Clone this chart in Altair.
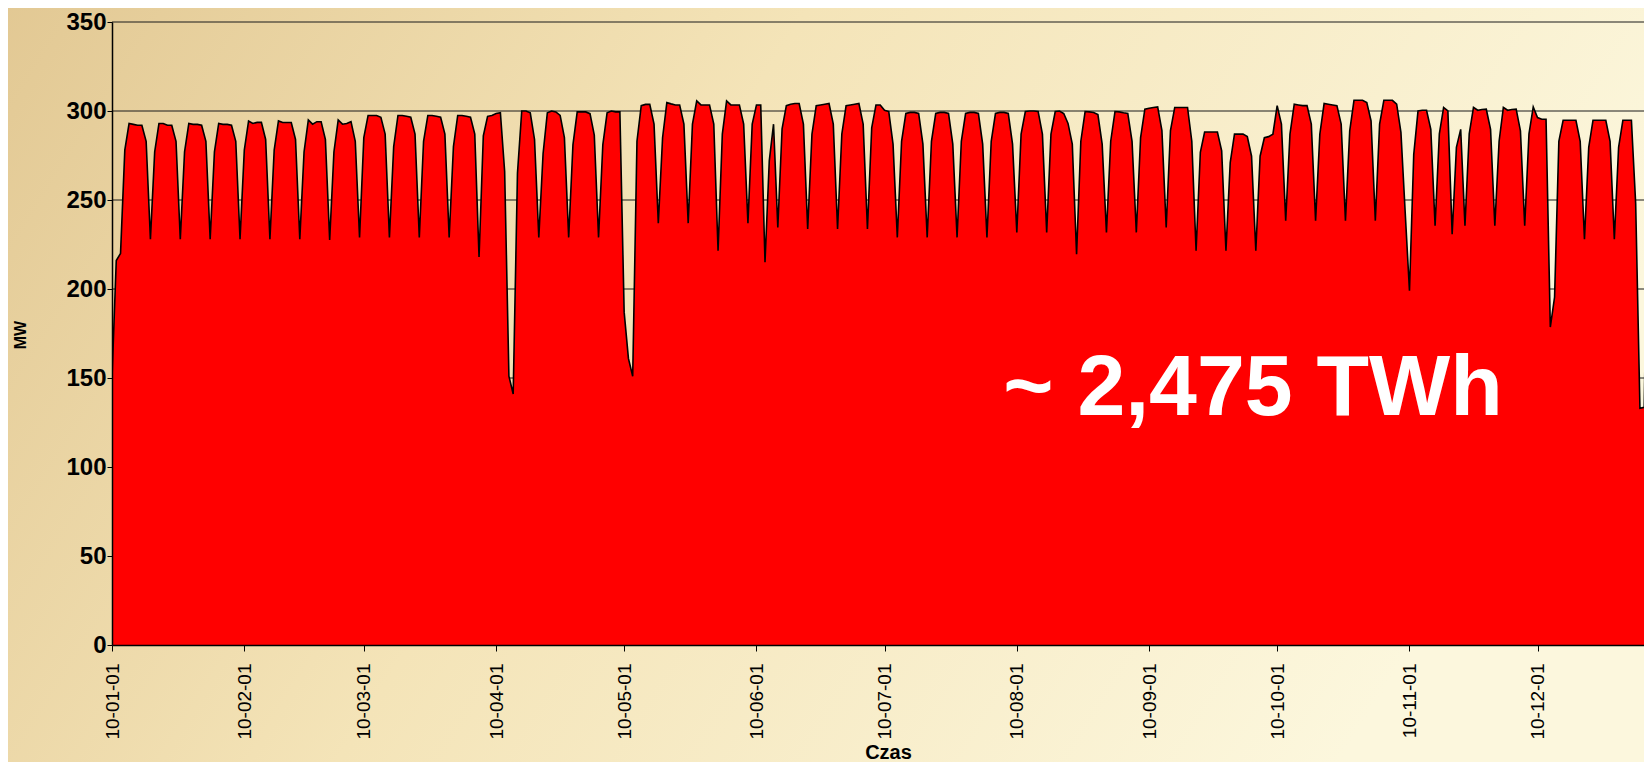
import altair as alt
import pandas as pd

# Daily average power (MW), 2010
jan = [150, 216, 220, 278, 293, 292.5, 292, 292, 283, 228,
       277, 293, 293, 292, 292, 283, 228,
       277, 293, 292.5, 292.5, 292, 283, 228,
       277, 293, 292.5, 292.5, 292, 283, 228]
feb = [278, 294.4, 293, 293.6, 293.6, 284, 228,
       278, 294.4, 293.5, 293.5, 293.5, 284, 228,
       277, 295, 292.6, 294, 294, 284, 227.5,
       277, 295, 292.6, 293, 294, 283, 229]
mar = [285, 297.5, 297.5, 297.5, 296.5, 287, 229,
       280, 297.5, 297.5, 297, 296.5, 287, 229,
       283, 297.5, 297.5, 297, 296.5, 287, 229,
       280, 297.5, 297.5, 297, 296.5, 287, 218,
       286, 297, 297.5]
apr = [298.6, 299, 266, 151, 141, 265, 300, 300, 299, 284, 229,
       276, 299, 300, 299.5, 297.5, 285, 229,
       281, 299.5, 299.5, 299.5, 298.5, 286.5, 229,
       281, 299, 300, 299.5, 299.5]
may = [187, 161, 151, 283, 303, 303.7, 303.7, 292.6, 237,
       285, 304.7, 304, 303.4, 303.4, 292.6, 237,
       292.6, 305.7, 303.4, 303.4, 303.4, 292.6, 221.5,
       287, 305.7, 303.4, 303.4, 303.4, 292.6, 237,
       292.6]
jun = [303.4, 303.4, 215, 272, 292.6, 234.6,
       290, 303, 303.8, 304.2, 304.2, 292.6, 233.7,
       287, 303, 303.4, 303.8, 304.2, 292.6, 233.7,
       287, 303, 303.4, 303.8, 304.2, 292.6, 233.7,
       290.5, 303.4, 303.4]
jul = [300.4, 299.7, 281.4, 229,
       283, 298.6, 299.2, 299.2, 298.6, 281.4, 229,
       283, 298.6, 299.2, 299.2, 298.6, 281.4, 229,
       283, 298.6, 299.2, 299.2, 298.6, 281.4, 229,
       283, 298.6, 299.2, 299.2, 298.6, 281.4]
aug = [231.8, 287, 299.7, 300, 300, 299.7, 287, 231.8,
       287, 299.7, 300, 298.6, 293, 281.4, 219.6,
       283, 299.7, 299.5, 299.2, 298, 281.4, 231.8,
       283, 299.7, 299.5, 299, 298.6, 283, 231.8,
       285, 301]
sep = [301.5, 302, 302.3, 289, 234.6,
       289, 302, 302, 302, 302, 283, 221.5,
       276.8, 288.2, 288.2, 288.2, 288.2, 277.6, 221.5,
       271, 287, 287, 287, 285.6, 274.6, 221.5,
       274.6, 285, 285.6, 287]
oct_ = [303, 292.6, 238.4,
        287, 303.8, 303.4, 303, 303, 292.6, 238.4,
        287, 304.2, 303.8, 303.4, 303, 292.6, 238.4,
        288.8, 306, 306, 306, 304.7, 294.4, 238.4,
        292.6, 306, 306, 306, 303.8, 288, 243]
nov = [199, 275.6, 300, 300.4, 300.4, 289.7, 235.5,
       287.2, 302, 300, 230.8, 279.6, 289.7, 235.5,
       287.2, 302, 300.4, 300.8, 301, 289.7, 235.5,
       283, 302, 300.4, 300.8, 301, 288.8, 235.5,
       287.2, 302.3]
dec = [296.3, 295.4, 295.4, 178.6, 195.5,
       283, 294.8, 294.8, 294.8, 294.8, 283, 228,
       279.6, 294.8, 294.8, 294.8, 294.8, 283, 228,
       279.6, 294.8, 294.8, 294.8, 248, 133, 133.5,
       280, 295, 295, 294, 285]

months = [jan, feb, mar, apr, may, jun, jul, aug, sep, oct_, nov, dec]
mw = [v for m in months for v in m]
day = list(range(len(mw)))

tick_days = [0, 31, 59, 90, 120, 151, 181, 212, 243, 273, 304, 334]
tick_labels = ["10-01-01", "10-02-01", "10-03-01", "10-04-01", "10-05-01", "10-06-01",
               "10-07-01", "10-08-01", "10-09-01", "10-10-01", "10-11-01", "10-12-01"]
y_ticks = [0, 50, 100, 150, 200, 250, 300, 350]
grid_values = [50, 100, 150, 200, 250, 300, 350]
annotation = ["~ 2,475 TWh"]
y_title = ["MW"]
x_title = "Czas"

label_expr = "''"
for d, lab in reversed(list(zip(tick_days, tick_labels))):
    label_expr = f"datum.value == {d} ? '{lab}' : ({label_expr})"

PX_PER_DAY = 4.268
W, H = 1532, 623
X_END = W / PX_PER_DAY          # visible part of the year (window cuts it off)
FONT = "Liberation Sans"

df = pd.DataFrame({"day": day, "mw": mw})
grid_df = pd.DataFrame({"g": grid_values})
bg_df = pd.DataFrame({"k": [0]})
txt_df = pd.DataFrame({"t": annotation})
ytitle_df = pd.DataFrame({"t": y_title})

xscale = alt.Scale(domain=[0, X_END], nice=False, zero=False)
yscale = alt.Scale(domain=[0, 350], nice=False)

y_axis = alt.Axis(values=y_ticks, title=None,
                  labelFontSize=24, labelFontWeight="bold", labelPadding=1,
                  tickSize=5, grid=False, zindex=1)

bg = alt.Chart(bg_df).mark_rect(
    color=alt.LinearGradient(
        gradient="linear", x1=0, y1=0, x2=1, y2=0.3,
        stops=[alt.GradientStop(offset=0, color="#E2C893"),
               alt.GradientStop(offset=0.45, color="#F4E4B8"),
               alt.GradientStop(offset=1, color="#FCF7DD")]),
    strokeWidth=0,
).encode(x=alt.value(-120), x2=alt.value(W + 20), y=alt.value(-20), y2=alt.value(H + 160))

grid = alt.Chart(grid_df).mark_rule(color="#1a1a1a", strokeWidth=1).encode(
    y=alt.Y("g:Q", scale=yscale, axis=y_axis),
    x=alt.datum(0, scale=xscale),
    x2=alt.datum(X_END),
)

area = alt.Chart(df).mark_area(
    color="#FF0000", opacity=1, clip=True,
    line={"color": "#000000", "strokeWidth": 1.6},
).encode(
    x=alt.X("day:Q", scale=xscale,
            axis=alt.Axis(values=tick_days, labelExpr=label_expr, title=x_title,
                          titleX=776, titleY=107, titleBaseline="middle",
                          labelAngle=-90, labelAlign="right", labelBaseline="middle",
                          labelFontSize=19, labelPadding=12, tickSize=6,
                          grid=False, zindex=1)),
    y=alt.Y("mw:Q", scale=yscale, axis=y_axis),
)

txt = alt.Chart(txt_df).mark_text(
    font=FONT, fontSize=86, fontWeight="bold", color="#FFFFFF",
    align="center", baseline="alphabetic",
).encode(text="t:N", x=alt.value(1141), y=alt.value(393))

ytitle = alt.Chart(ytitle_df).mark_text(
    font=FONT, fontSize=16, fontWeight="bold", color="#000000",
    align="center", baseline="middle", angle=270,
).encode(text="t:N", x=alt.value(-91), y=alt.value(313))

chart = alt.layer(bg, grid, area, txt, ytitle).properties(
    width=W, height=H,
    autosize=alt.AutoSizeParams(type="none"),
    padding={"left": 104, "top": 14, "right": 0, "bottom": 117},
    background="#F2E3BA",
).configure_view(
    stroke=None
).configure_axis(
    labelFont=FONT, titleFont=FONT, labelColor="#000", titleColor="#000",
    tickColor="#000", domainColor="#000", domainWidth=1.5,
    titleFontWeight="bold",
).configure_axisX(
    titleFontSize=20,
)

chart.save("out.html", embed_options={"renderer": "svg", "actions": False})
